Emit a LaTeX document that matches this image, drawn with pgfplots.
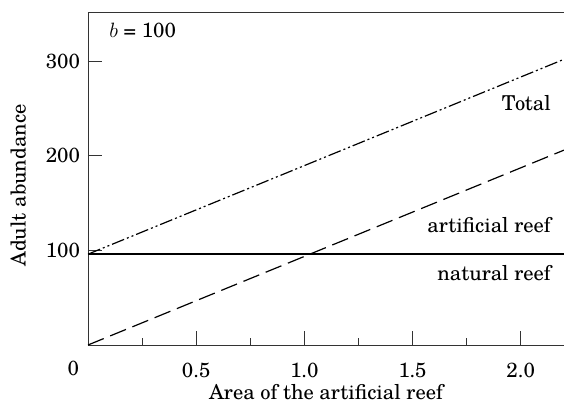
\documentclass[border=0pt]{standalone}
\usepackage{pgfplots}
\pgfplotsset{compat=1.18}
\usepackage{fontspec}
\setmainfont{TeX Gyre Schola}

\pgfplotstableread{
x natural artificial total
0.0 96 0 96
2.2 96 206 302
}\reefdata

\begin{document}
\fontsize{20.5}{24}\selectfont
\begin{tikzpicture}
\begin{axis}[
  at={(0,0)},anchor=south west,
  scale only axis,width=476pt,height=333pt,
  xmin=0,xmax=2.2,ymin=0,ymax=352,
  axis x line*=bottom,axis y line*=left,
  axis line style={line width=0.9pt,draw=black!80},
  xtick={0,0.5,1,1.5,2},
  xticklabels={,0.5,1.0,1.5,2.0},
  minor xtick={0.25,0.75,1.25,1.75},
  ytick={100,200,300},
  tick align=inside,
  major tick length=14pt,minor tick length=7pt,
  tick style={line width=0.9pt,draw=black!80},
  ticklabel style={font=\fontsize{20.5}{24}\selectfont},
  /pgf/number format/assume math mode=true,
  xticklabel style={yshift=-11pt},
  yticklabel style={xshift=-1pt},
  xlabel={Area of the artificial reef},
  ylabel={Adult abundance},
  label style={font=\fontsize{20.5}{24}\selectfont},
  xlabel style={yshift=7pt},
  ylabel style={yshift=6pt,xshift=-7pt},
  clip=false,
]
\addplot[line width=1.2pt,black,dash pattern=on 17pt off 7pt] table[x=x,y=artificial]{\reefdata};
\addplot[line width=1.4pt,black] table[x=x,y=natural]{\reefdata};
\addplot[line width=1.2pt,black,dash pattern=on 13pt off 3pt on 2pt off 3pt on 2pt off 3pt] table[x=x,y=total]{\reefdata};
\draw[line width=0.9pt,draw=black!80] (rel axis cs:0,1) -- (rel axis cs:1,1);
\node[anchor=base west] at (rel axis cs:0.03,0.922) {$b$ = 100};
\node[anchor=base east] at (rel axis cs:0.987,0.703) {Total};
\node[anchor=base east] at (rel axis cs:0.987,0.339) {artificial reef};
\node[anchor=base east] at (rel axis cs:0.987,0.195) {natural reef};
\node[anchor=north east] at (axis cs:0,0) [xshift=-2pt,yshift=-9pt] {0};
\end{axis}
\pgfresetboundingbox
\path (-88pt,-58pt) rectangle (476pt,345pt);
\end{tikzpicture}
\end{document}
